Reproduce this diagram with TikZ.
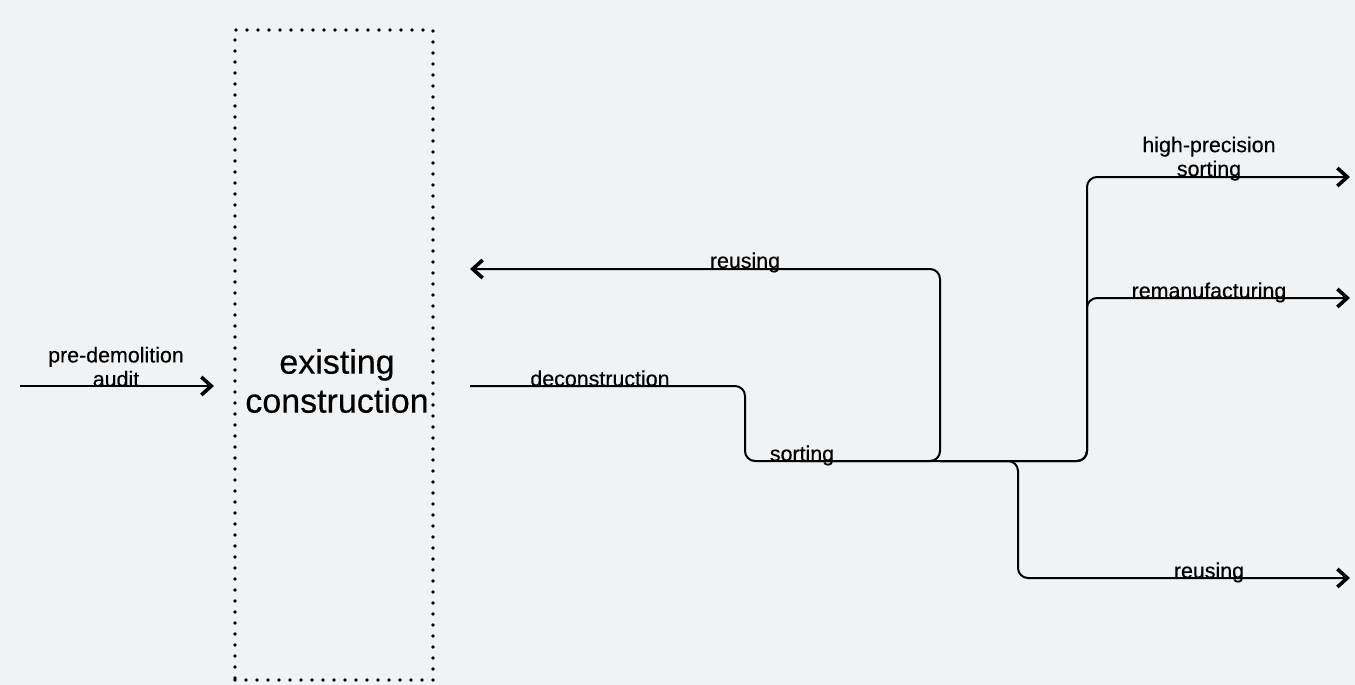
\documentclass[tikz,border=0pt]{standalone}
\usepackage{fontspec}
\setmainfont{Liberation Sans}[FakeBold=0.35]
\usepackage{tikz}
\usetikzlibrary{arrows.meta}
\definecolor{bgpaper}{RGB}{241,242,244}

\begin{document}
\begin{tikzpicture}[x=0.5pt,y=-0.5pt,
    flow/.style={line width=1pt,rounded corners=5pt},
    tip/.style={-{Straight Barb[length=5pt,width=9pt,line width=1.8pt]}},
    lbl/.style={inner sep=0pt,font=\fontsize{10.7}{12}\selectfont,align=center},
    site box/.style={draw,line width=1.9pt,dash pattern=on 0pt off 5.5pt,line cap=round,
                     minimum width=99pt,minimum height=325pt,inner sep=0pt}]
  % page
  \fill[bgpaper] (0,0) rectangle (1355,685);
  \useasboundingbox (0,0) rectangle (1355,685);

  % building on site
  \node[site box] (site) at (334,355) {};
  \node[font=\fontsize{17}{19.5}\selectfont,align=center,inner sep=0pt] (sitetxt) at (337,381) {existing\\construction};

  % corner points of the material flows
  \coordinate (audit0) at (20,386);
  \coordinate (audit1) at (214,386);
  \coordinate (dec0)   at (470,386);
  \coordinate (sortA)  at (745,461);
  \coordinate (sortB)  at (800,461);
  \coordinate (hub)    at (940,461);
  \coordinate (back)   at (470,269);
  \coordinate (down)   at (1018,461);
  \coordinate (up)     at (1087,461);
  \coordinate (hpend)  at (1350,177);
  \coordinate (remend) at (1350,298);
  \coordinate (reend)  at (1350,578);

  \draw[flow,tip] (audit0) -- (audit1);
  \draw[flow] (dec0) -| (sortA) -- (hub);
  \draw[flow,tip] (sortB) -- (hub) |- (back);
  %
  \draw[flow,tip] (hub) -- (up) |- (hpend);
  \draw[flow,tip] (hub) -- (up) |- (remend);
  \draw[flow,tip] (hub) -- (down) |- (reend);

  % labels
  \node[lbl,anchor=south] (lbaudit) at (116,387) {pre-demolition\\audit};
  \node[lbl,anchor=base] (lbdec)  at (600,386) {deconstruction};
  \node[lbl,anchor=base] (lbsort) at (802,461) {sorting};
  \node[lbl,anchor=base] (lbback) at (745,268) {reusing};
  \node[lbl,anchor=south] (lbhp)  at (1209,181) {high-precision\\sorting};
  \node[lbl,anchor=base] (lbrem)  at (1209,298) {remanufacturing};
  \node[lbl,anchor=base] (lbre)   at (1209,578) {reusing};
\end{tikzpicture}
\end{document}
